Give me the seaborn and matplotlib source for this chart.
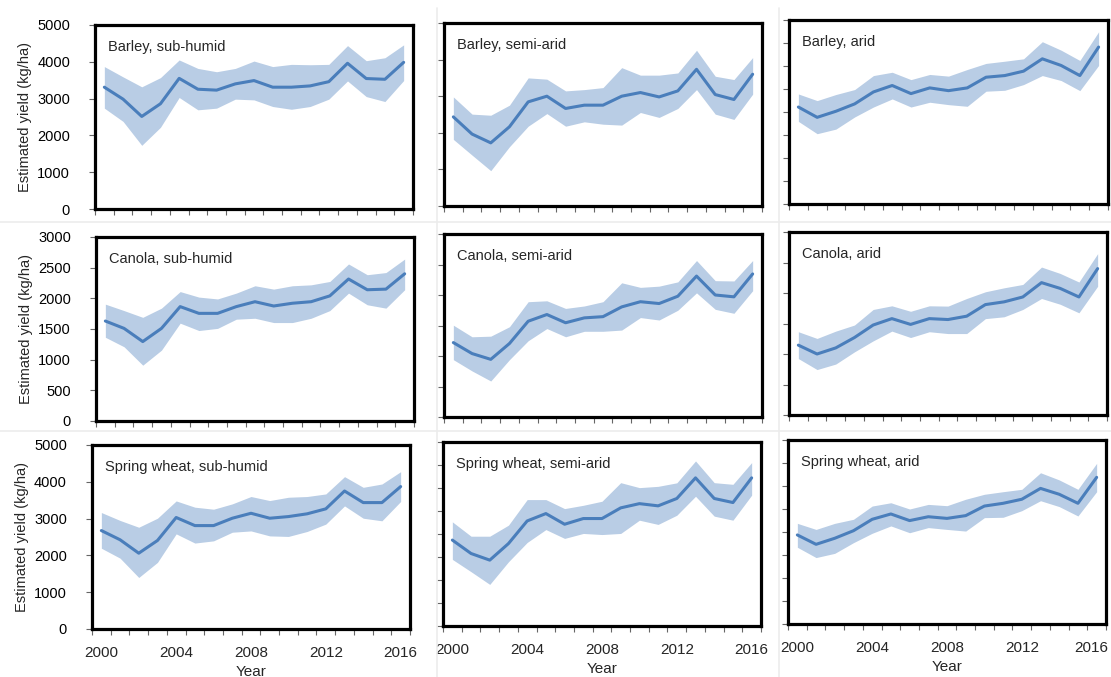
import numpy as np
import pandas as pd
import seaborn as sns
import matplotlib
matplotlib.use("Agg")
import matplotlib.pyplot as plt
import matplotlib.transforms as mtransforms

years = list(range(2000, 2017))
year_labels = ["2000", "2004", "2008", "2012", "2016"]

# Barley
barley_subhumid_mean = [3310, 2985, 2515, 2860, 3550, 3255, 3230, 3400, 3490, 3310, 3310, 3345, 3460, 3960, 3545, 3525, 3985]
barley_subhumid_lo = [2740, 2380, 1730, 2220, 3030, 2695, 2740, 2985, 2965, 2785, 2710, 2785, 2985, 3480, 3055, 2920, 3490]
barley_subhumid_hi = [3870, 3590, 3320, 3570, 4050, 3820, 3730, 3820, 4020, 3870, 3930, 3920, 3930, 4440, 4030, 4110, 4460]

barley_semiarid_mean = [2435, 1965, 1725, 2165, 2845, 3000, 2665, 2755, 2755, 3000, 3100, 2980, 3145, 3735, 3045, 2910, 3600]
barley_semiarid_lo = [1820, 1390, 965, 1620, 2180, 2525, 2180, 2300, 2235, 2210, 2555, 2420, 2665, 3180, 2510, 2365, 3055]
barley_semiarid_hi = [2980, 2510, 2480, 2755, 3500, 3465, 3145, 3180, 3235, 3780, 3575, 3575, 3635, 4255, 3545, 3455, 4055]

barley_arid_mean = [2635, 2355, 2520, 2720, 3045, 3220, 3000, 3155, 3080, 3155, 3445, 3490, 3610, 3945, 3765, 3490, 4265]
barley_arid_lo = [2245, 1910, 2035, 2365, 2635, 2855, 2635, 2765, 2700, 2655, 3065, 3090, 3245, 3490, 3355, 3080, 3765]
barley_arid_hi = [2990, 2810, 2975, 3110, 3490, 3580, 3380, 3520, 3475, 3655, 3820, 3880, 3945, 4410, 4180, 3900, 4680]

# Canola
canola_subhumid_mean = [1630, 1510, 1295, 1510, 1865, 1755, 1755, 1865, 1945, 1875, 1920, 1945, 2040, 2315, 2140, 2150, 2400]
canola_subhumid_lo = [1365, 1210, 910, 1155, 1595, 1475, 1510, 1660, 1675, 1605, 1605, 1675, 1800, 2085, 1895, 1840, 2140]
canola_subhumid_hi = [1905, 1800, 1690, 1840, 2110, 2020, 1990, 2085, 2205, 2150, 2205, 2220, 2275, 2560, 2385, 2420, 2640]

canola_semiarid_mean = [1220, 1040, 945, 1205, 1570, 1680, 1545, 1625, 1645, 1805, 1890, 1860, 1980, 2310, 2000, 1970, 2345]
canola_semiarid_lo = [940, 755, 590, 940, 1250, 1450, 1315, 1405, 1405, 1425, 1630, 1590, 1750, 2035, 1765, 1700, 2070]
canola_semiarid_hi = [1505, 1315, 1325, 1480, 1890, 1905, 1780, 1820, 1890, 2200, 2125, 2145, 2215, 2565, 2235, 2230, 2565]

canola_arid_mean = [1145, 1000, 1100, 1270, 1475, 1580, 1485, 1580, 1565, 1620, 1810, 1855, 1935, 2170, 2075, 1935, 2400]
canola_arid_lo = [925, 745, 835, 1035, 1215, 1375, 1270, 1365, 1335, 1335, 1580, 1610, 1730, 1910, 1815, 1675, 2110]
canola_arid_hi = [1365, 1255, 1375, 1475, 1730, 1790, 1700, 1790, 1785, 1910, 2020, 2085, 2140, 2425, 2320, 2180, 2645]

# Spring wheat
wheat_subhumid_mean = [2675, 2425, 2060, 2405, 3030, 2810, 2810, 3010, 3145, 3010, 3055, 3130, 3265, 3750, 3435, 3435, 3870]
wheat_subhumid_lo = [2195, 1925, 1400, 1810, 2585, 2335, 2395, 2630, 2665, 2530, 2515, 2650, 2850, 3345, 3010, 2940, 3465]
wheat_subhumid_hi = [3165, 2950, 2765, 3010, 3480, 3310, 3255, 3400, 3600, 3490, 3580, 3600, 3670, 4140, 3850, 3940, 4275]

wheat_semiarid_mean = [2335, 1970, 1790, 2240, 2855, 3055, 2765, 2920, 2920, 3210, 3325, 3265, 3465, 4025, 3465, 3355, 4025]
wheat_semiarid_lo = [1810, 1475, 1130, 1745, 2270, 2620, 2380, 2515, 2485, 2515, 2875, 2760, 3010, 3525, 2985, 2875, 3555]
wheat_semiarid_hi = [2830, 2440, 2440, 2740, 3435, 3435, 3190, 3280, 3390, 3895, 3760, 3795, 3890, 4485, 3895, 3850, 4440]

wheat_arid_mean = [2420, 2165, 2330, 2535, 2845, 2990, 2810, 2915, 2870, 2945, 3205, 3280, 3390, 3685, 3525, 3280, 3985]
wheat_arid_lo = [2085, 1805, 1920, 2210, 2465, 2665, 2480, 2620, 2570, 2525, 2890, 2900, 3080, 3350, 3190, 2935, 3595]
wheat_arid_hi = [2735, 2570, 2735, 2845, 3205, 3295, 3125, 3250, 3215, 3390, 3525, 3595, 3660, 4110, 3915, 3660, 4365]

titles = ["Barley, sub-humid", "Barley, semi-arid", "Barley, arid",
          "Canola, sub-humid", "Canola, semi-arid", "Canola, arid",
          "Spring wheat, sub-humid", "Spring wheat, semi-arid", "Spring wheat, arid"]

series = [
    (barley_subhumid_mean, barley_subhumid_lo, barley_subhumid_hi),
    (barley_semiarid_mean, barley_semiarid_lo, barley_semiarid_hi),
    (barley_arid_mean, barley_arid_lo, barley_arid_hi),
    (canola_subhumid_mean, canola_subhumid_lo, canola_subhumid_hi),
    (canola_semiarid_mean, canola_semiarid_lo, canola_semiarid_hi),
    (canola_arid_mean, canola_arid_lo, canola_arid_hi),
    (wheat_subhumid_mean, wheat_subhumid_lo, wheat_subhumid_hi),
    (wheat_semiarid_mean, wheat_semiarid_lo, wheat_semiarid_hi),
    (wheat_arid_mean, wheat_arid_lo, wheat_arid_hi),
]

# y-axis top and number of tick intervals per panel
y_tops = [5000, 5000, 5000, 3000, 3000, 3000, 5000, 5000, 5000]
y_steps = [5, 5, 8, 6, 6, 6, 5, 8, 8]

sns.set_theme(style="ticks")
plt.rcParams['font.family'] = ['Liberation Sans', 'DejaVu Sans']

W, H = 1111, 677
fig = plt.figure(figsize=(W / 100, H / 100), dpi=100)

# panel frames in pixels: left, top, right, bottom
frames = [(95, 25, 413, 209), (444, 23, 762, 206), (789, 20, 1108, 204),
          (96, 237, 414, 421), (444, 234, 762, 417), (789, 232, 1107, 415),
          (92, 445, 410, 629), (443, 442, 761, 626), (788, 440, 1106, 624)]

# faint separators between the pasted panels
for y in [222, 431]:
    fig.add_artist(plt.Line2D([0, 1], [1 - y / H, 1 - y / H], color="#ececec", lw=1.2))
for x in [437, 779]:
    fig.add_artist(plt.Line2D([x / W, x / W], [0, 1 - 8 / H], color="#ececec", lw=1.2))

line_color = "#4a7ebb"
band_color = "#b9cde5"

for i, (title, (mean, lo, hi)) in enumerate(zip(titles, series)):
    l, t, r, b = frames[i]
    ax = fig.add_axes([l / W, 1 - b / H, (r - l) / W, (b - t) / H])
    df = pd.DataFrame({"pos": np.arange(len(years)), "year": years,
                       "mean": mean, "lo": lo, "hi": hi})
    ax.fill_between(df["pos"], df["lo"], df["hi"], color=band_color, lw=0)
    sns.lineplot(data=df, x="pos", y="mean", ax=ax, color=line_color, lw=2.2)

    ax.set_xlim(-0.5, len(years) - 0.5)
    ax.set_ylim(0, y_tops[i])
    ax.set_xticks(np.arange(-0.5, len(years), 1))
    ax.set_xticklabels([])
    ax.set_yticks(np.linspace(0, y_tops[i], y_steps[i] + 1))
    ax.tick_params(which="major", length=4, width=0.8, color="#666666", direction="out")
    ax.tick_params(axis="y", labelsize=10.5, pad=14, colors="#666666", labelcolor="black")

    if i % 3 == 0:
        ax.set_yticklabels([f"{int(v)}" for v in ax.get_yticks()])
        ax.set_ylabel("Estimated yield (kg/ha)", fontsize=10.5, labelpad=4)
    else:
        ax.set_yticklabels([])
        ax.set_ylabel("")

    if i >= 6:
        ax.set_xticks([0, 4, 8, 12, 16], minor=True)
        ax.set_xticklabels(year_labels, minor=True, fontsize=11)
        ax.tick_params(which="minor", length=0, pad=12)
        ax.set_xlabel("Year", fontsize=11, labelpad=4)
        if i == 8:
            # last label sits at the figure edge, nudge it inside
            lab = ax.get_xticklabels(minor=True)[-1]
            lab.set_transform(lab.get_transform() +
                              mtransforms.ScaledTranslation(-5 / 100, 0, fig.dpi_scale_trans))
    else:
        ax.set_xlabel("")

    for sp in ax.spines.values():
        sp.set_visible(True)
        sp.set_color("black")
        sp.set_linewidth(2.3)

    ax.text(0.04, 0.88, title, transform=ax.transAxes, fontsize=10.5,
            ha="left", va="center")

fig.savefig("out.png", dpi=100)
